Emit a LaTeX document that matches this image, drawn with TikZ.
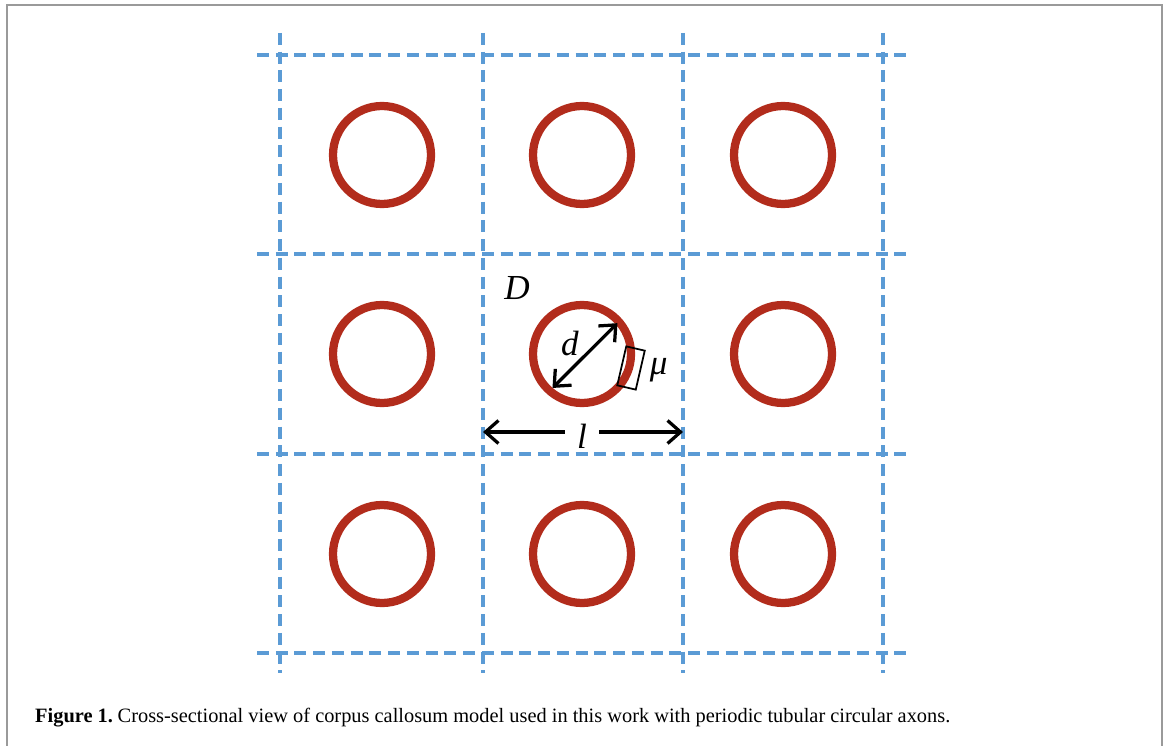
\documentclass[tikz,border=0pt]{standalone}
\usepackage{fontspec}
\setmainfont{Liberation Serif}
\usepackage{tikz}
\usepackage{xcolor}
\usetikzlibrary{arrows.meta,positioning,calc}
\definecolor{Frame}{HTML}{9A9A9A}
\definecolor{Cell}{HTML}{5B9BD5}
\definecolor{Axon}{HTML}{B22C1C}

\begin{document}
\begin{tikzpicture}[x=0.02cm,y=-0.02cm,
  every node/.style={font=\fontsize{20}{24}\selectfont\itshape,align=center},
  cellline/.style={Cell,line width=0.075cm,dash pattern=on 0.24cm off 0.135cm},
  axon/.style={circle,draw=Axon,line width=0.165cm,minimum size=1.96cm,inner sep=0pt,outer sep=0pt},
  dimline/.style={{Straight Barb[length=0.26cm,width=0.46cm]}-{Straight Barb[length=0.26cm,width=0.46cm]},line width=0.065cm}]
  \useasboundingbox (0,0) rectangle (1168,746);
  \draw[Frame,line width=0.04cm] (7,746) -- (7,5) -- (1162,5) -- (1162,746);
  \draw[cellline] (280,33) -- (280,673);
  \draw[cellline] (483,33) -- (483,673);
  \draw[cellline] (683,33) -- (683,673);
  \draw[cellline] (883,33) -- (883,673);
  \draw[cellline] (257,55) -- (910,55);
  \draw[cellline] (257,254) -- (910,254);
  \draw[cellline] (257,454) -- (910,454);
  \draw[cellline] (257,653) -- (910,653);
  \node[axon] (c11) at (382,155) {};
  \node[axon] (c12) at (582,155) {};
  \node[axon] (c13) at (783,155) {};
  \node[axon] (c21) at (382,354) {};
  \node[axon] (c22) at (582,354) {};
  \node[axon] (c23) at (783,354) {};
  \node[axon] (c31) at (382,554) {};
  \node[axon] (c32) at (582,554) {};
  \node[axon] (c33) at (783,554) {};
  \node (D) at (517,288) {D};
  \coordinate (dtail) at ($(c22)+(229:0.9cm)$);
  \coordinate (dhead) at ($(c22)+(41:0.94cm)$);
  \draw[dimline] (dtail) -- (dhead);
  \node (dlab) at (570,343) {d};
  \node[draw,line width=0.035cm,minimum width=0.38cm,minimum height=0.8cm,inner sep=0pt,rotate=-13] (wall) at (631,368) {};
  \node[right=0.05cm of wall] (mu) {μ};
  \coordinate (lleft) at (483,432);
  \coordinate (lright) at (683,432);
  \node[minimum width=0.68cm,inner sep=0pt] (llab) at (582,436) {l};
  \draw[dimline,{Straight Barb[length=0.26cm,width=0.46cm]}-] (lleft) -- (lleft-|llab.west);
  \draw[dimline,-{Straight Barb[length=0.26cm,width=0.46cm]}] (lright-|llab.east) -- (lright);
  \node[anchor=west,font=\fontsize{11.6}{14}\selectfont] (cap) at (29,718) {\textbf{Figure 1.}\hspace{-0.1em} Cross-sectional view of corpus callosum model used in this work with periodic tubular circular axons.};
\end{tikzpicture}
\end{document}
